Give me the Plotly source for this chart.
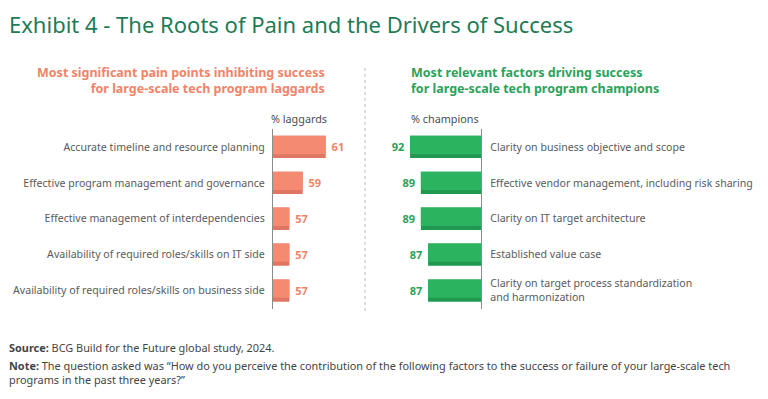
import plotly.graph_objects as go

W, H = 768, 399

# ---------------- data ----------------
laggard_factors = [
    "Accurate timeline and resource planning",
    "Effective program management and governance",
    "Effective management of interdependencies",
    "Availability of required roles/skills on IT side",
    "Availability of required roles/skills on business side",
]
laggard_values = [61.3, 58.7, 57.2, 57.2, 57.2]   # shown rounded: 61, 59, 57, 57, 57

champion_factors = [
    "Clarity on business objective and scope",
    "Effective vendor management, including risk sharing",
    "Clarity on IT target architecture",
    "Established value case",
    "Clarity on target process standardization<br>and harmonization",
]
champion_values = [92, 89, 89, 87, 87]

title_text = "Exhibit 4 - The Roots of Pain and the Drivers of Success"
left_sub = "Most significant pain points inhibiting success<br>for large-scale tech program laggards"
right_sub = "Most relevant factors driving success<br>for large-scale tech program champions"
left_unit = "% laggards"
right_unit = "% champions"
source_text = "<b>Source:</b> BCG Build for the Future global study, 2024."
note_text = ("<b>Note:</b> The question asked was \u201cHow do you perceive the contribution of the following factors "
             "to the success or failure of your large-scale tech<br>programs in the past three years?\u201d")

# ---------------- style ----------------
FONT = "Noto Sans, Open Sans, sans-serif"
TITLE_C = "#1E7B55"
SALMON = "#F58A72"
SALMON_D = "#DE7663"
GREEN = "#2CB35F"
GREEN_D = "#20984F"
SALMON_T = "#F08468"
GREEN_T = "#2AA25A"
GRAY_T = "#5A5A5A"

def px(x):
    return x / W

def py(y):
    return 1 - y / H

# axis geometry (pixels)
L_AX, L_END = 273, 360
L_BASE, L_K = 55.35, 8.86
R_AX, R_START = 481, 385
R_BASE, R_K = 72.3, 3.6
ROW_TOP, ROW_BOT = 129, 308.5

ypos = list(range(len(laggard_factors)))
BW, STRIP = 0.62, 0.11

fig = go.Figure()

# left (laggards)
fig.add_trace(go.Bar(
    y=ypos, x=laggard_values, orientation="h", xaxis="x", yaxis="y",
    marker=dict(color=SALMON_D, line=dict(width=0)), width=BW, offset=-BW / 2,
    texttemplate=" %{x:.0f}", textposition="outside",
    textfont=dict(family=FONT, size=11, color=SALMON_T, weight="bold"),
    hoverinfo="skip", showlegend=False,
))
fig.add_trace(go.Bar(
    y=ypos, x=laggard_values, orientation="h", xaxis="x", yaxis="y",
    marker=dict(color=SALMON, line=dict(width=0)), width=BW - STRIP, offset=-BW / 2,
    hoverinfo="skip", showlegend=False,
))

# right (champions)
fig.add_trace(go.Bar(
    y=ypos, x=champion_values, orientation="h", xaxis="x2", yaxis="y2",
    marker=dict(color=GREEN_D, line=dict(width=0)), width=BW, offset=-BW / 2,
    texttemplate="%{x:.0f} ", textposition="outside",
    textfont=dict(family=FONT, size=11, color=GREEN_T, weight="bold"),
    hoverinfo="skip", showlegend=False,
))
fig.add_trace(go.Bar(
    y=ypos, x=champion_values, orientation="h", xaxis="x2", yaxis="y2",
    marker=dict(color=GREEN, line=dict(width=0)), width=BW - STRIP, offset=-BW / 2,
    hoverinfo="skip", showlegend=False,
))

ydom = [py(ROW_BOT), py(ROW_TOP)]
yrange = [len(ypos) - 0.5, -0.5]
TICK_FS = 10.6

fig.update_layout(
    width=W, height=H,
    margin=dict(l=0, r=0, t=0, b=0, autoexpand=False),
    paper_bgcolor="white", plot_bgcolor="rgba(0,0,0,0)",
    barmode="overlay",
    font=dict(family=FONT, color=GRAY_T),
    xaxis=dict(domain=[px(L_AX), px(L_END)],
               range=[L_BASE, L_BASE + (L_END - L_AX) / L_K],
               visible=False, fixedrange=True, automargin=False),
    yaxis=dict(domain=ydom, range=yrange, anchor="x",
               tickvals=ypos, ticktext=laggard_factors,
               showline=True, linecolor="#8C8C8C", linewidth=1.2,
               showgrid=False, zeroline=False, ticks="",
               ticklabelstandoff=5, automargin=False,
               tickfont=dict(family=FONT, size=TICK_FS, color=GRAY_T)),
    xaxis2=dict(domain=[px(R_START), px(R_AX)],
                range=[R_BASE + (R_AX - R_START) / R_K, R_BASE],
                visible=False, fixedrange=True, automargin=False),
    yaxis2=dict(domain=ydom, range=yrange, anchor="x2", side="right",
                tickvals=ypos, ticktext=champion_factors,
                showline=True, linecolor="#8C8C8C", linewidth=1.2,
                showgrid=False, zeroline=False, ticks="",
                ticklabelstandoff=6, automargin=False,
                tickfont=dict(family=FONT, size=TICK_FS, color=GRAY_T)),
)

ann = []
ann.append(dict(text=title_text, x=px(7), y=py(24), xref="paper", yref="paper",
                xanchor="left", yanchor="middle", showarrow=False,
                font=dict(family=FONT, size=22, color=TITLE_C)))
ann.append(dict(text=left_sub, x=px(327), y=py(81), xref="paper", yref="paper",
                xanchor="right", yanchor="middle", align="right", showarrow=False,
                font=dict(family=FONT, size=12.5, color=SALMON_T, weight="bold")))
ann.append(dict(text=right_sub, x=px(409), y=py(81), xref="paper", yref="paper",
                xanchor="left", yanchor="middle", align="left", showarrow=False,
                font=dict(family=FONT, size=12.5, color=GREEN_T, weight="bold")))
ann.append(dict(text=left_unit, x=px(269), y=py(118), xref="paper", yref="paper",
                xanchor="left", yanchor="middle", showarrow=False,
                font=dict(family=FONT, size=10.8, color="#4D4D4D")))
ann.append(dict(text=right_unit, x=px(409), y=py(118), xref="paper", yref="paper",
                xanchor="left", yanchor="middle", showarrow=False,
                font=dict(family=FONT, size=10.8, color="#4D4D4D")))
ann.append(dict(text=source_text, x=px(7), y=py(347), xref="paper", yref="paper",
                xanchor="left", yanchor="middle", showarrow=False,
                font=dict(family=FONT, size=10.9, color="#444444")))
ann.append(dict(text=note_text, x=px(7), y=py(372.5), xref="paper", yref="paper",
                xanchor="left", yanchor="middle", align="left", showarrow=False,
                font=dict(family=FONT, size=10.9, color="#444444")))
fig.update_layout(annotations=ann)

fig.add_shape(type="line", xref="paper", yref="paper",
              x0=px(365), x1=px(365), y0=py(68), y1=py(312),
              line=dict(color="#BBBBBB", width=1, dash="3px,3px"))

fig.write_html("out.html", config={"displayModeBar": False},
               post_script="document.body.style.margin='0';document.body.style.padding='0';")
